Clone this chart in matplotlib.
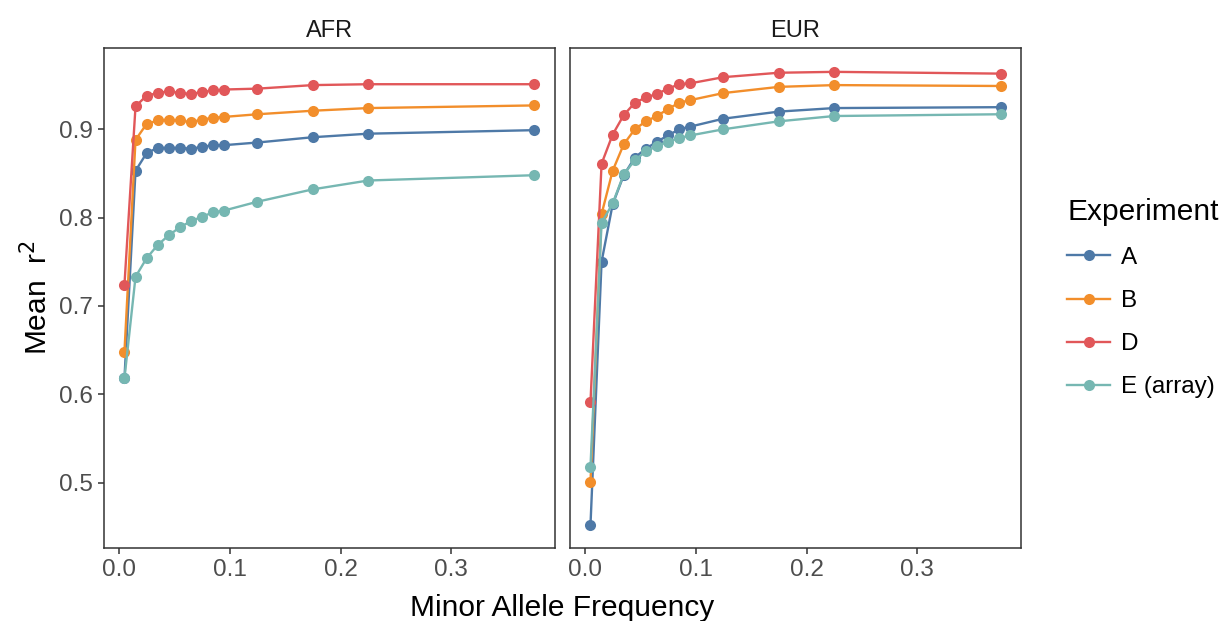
import matplotlib.pyplot as plt
from matplotlib.lines import Line2D

maf = [0.005, 0.015, 0.025, 0.035, 0.045, 0.055, 0.065, 0.075, 0.085, 0.095,
       0.125, 0.175, 0.225, 0.375]

experiments = ["A", "B", "D", "E (array)"]
colors = ["#4E79A7", "#F28E2B", "#E15759", "#76B7B2"]

# AFR
afr_A = [0.618, 0.853, 0.873, 0.879, 0.879, 0.879, 0.878, 0.880, 0.882, 0.882,
         0.885, 0.891, 0.895, 0.899]
afr_B = [0.648, 0.888, 0.906, 0.910, 0.911, 0.910, 0.908, 0.911, 0.913, 0.914,
         0.917, 0.921, 0.924, 0.927]
afr_D = [0.724, 0.926, 0.938, 0.941, 0.943, 0.941, 0.940, 0.942, 0.944, 0.945,
         0.946, 0.950, 0.951, 0.951]
afr_E = [0.618, 0.733, 0.754, 0.769, 0.780, 0.789, 0.796, 0.801, 0.806, 0.808,
         0.818, 0.832, 0.842, 0.848]

# EUR
eur_A = [0.452, 0.750, 0.815, 0.848, 0.868, 0.878, 0.886, 0.893, 0.900, 0.903,
         0.912, 0.920, 0.924, 0.925]
eur_B = [0.501, 0.804, 0.853, 0.883, 0.900, 0.909, 0.915, 0.923, 0.930, 0.933,
         0.941, 0.948, 0.950, 0.949]
eur_D = [0.591, 0.861, 0.894, 0.916, 0.930, 0.936, 0.940, 0.946, 0.951, 0.952,
         0.959, 0.964, 0.965, 0.963]
eur_E = [0.518, 0.794, 0.816, 0.849, 0.865, 0.875, 0.881, 0.886, 0.890, 0.893,
         0.900, 0.909, 0.915, 0.917]

panels = [("AFR", [afr_A, afr_B, afr_D, afr_E]),
          ("EUR", [eur_A, eur_B, eur_D, eur_E])]

plt.rcParams['font.family'] = ['Liberation Sans', 'DejaVu Sans']

fig = plt.figure(figsize=(12.2, 6.21), dpi=100)
bottom, top = 0.1176, 0.9227
lefts = [0.0852, 0.4672]
width = 0.3697

for i, (name, series) in enumerate(panels):
    ax = fig.add_axes([lefts[i], bottom, width, top - bottom])
    for ys, c in zip(series, colors):
        ax.plot(maf, ys, color=c, lw=1.7, marker='o', ms=8, mec='none')
    ax.set_xlim(-0.0135, 0.3935)
    ax.set_ylim(0.426, 0.992)
    ax.set_xticks([0.0, 0.1, 0.2, 0.3])
    ax.set_xticklabels(["0.0", "0.1", "0.2", "0.3"])
    ax.set_yticks([0.5, 0.6, 0.7, 0.8, 0.9])
    if i == 0:
        ax.set_yticklabels(["0.5", "0.6", "0.7", "0.8", "0.9"])
    else:
        ax.tick_params(axis='y', left=False, labelleft=False)
    for sp in ax.spines.values():
        sp.set_color('#333333')
        sp.set_linewidth(1.1)
    ax.tick_params(colors='#333333', labelcolor='#4D4D4D', labelsize=17.5,
                   length=4.3, width=1.1, pad=4)
    ax.set_title(name, fontsize=17, color='#1A1A1A', pad=8)

fig.text(0.461, 0.021, "Minor Allele Frequency", ha='center', va='center',
         fontsize=21.5)
fig.text(0.017, 0.52, r"Mean  r$^2$", rotation=90, ha='left', va='center',
         fontsize=21.5)

handles = [Line2D([], [], color=c, lw=1.7, marker='o', ms=8, mec='none')
           for c in colors]
leg = fig.legend(handles, experiments, title="Experiment", loc='center left',
                 bbox_to_anchor=(0.867, 0.52), frameon=False, fontsize=17.5,
                 title_fontsize=21.5, handlelength=1.75, labelspacing=0.87,
                 handletextpad=0.45, borderaxespad=0)
leg._legend_box.align = "left"

fig.savefig("out.png", dpi=100)
